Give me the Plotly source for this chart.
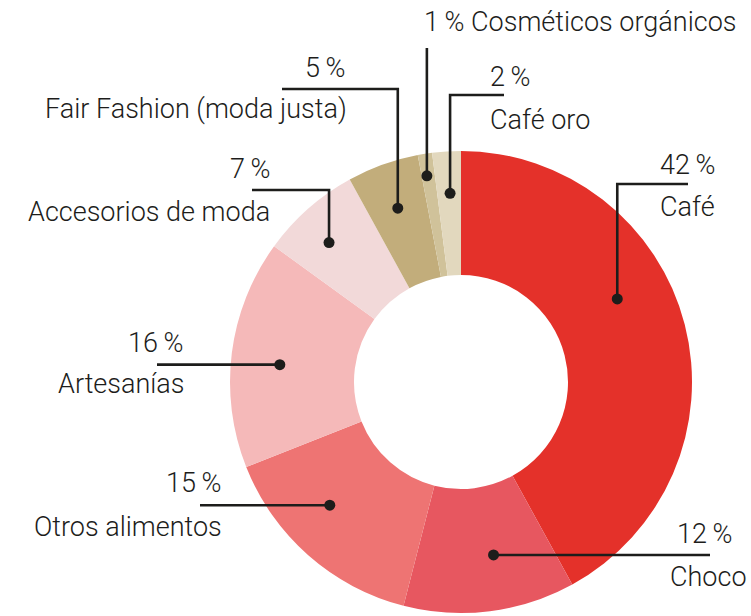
import math
import plotly.graph_objects as go

W, H = 751, 616

# ---- data ----
labels = ["Café", "Choco", "Otros alimentos", "Artesanías", "Accesorios de moda",
          "Fair Fashion (moda justa)", "Cosméticos orgánicos", "Café oro"]
values = [42, 12, 15, 16, 7, 5, 1, 2]
colors = ["#E4312A", "#E75760", "#EE7473", "#F5B9B9", "#F2D9D9",
          "#C2AD7B", "#D0C29A", "#E2D8BE"]

# ---- layout / style ----
CX, CY, R, RH = 461, 382, 231, 107
FONT = "Roboto"
FS = 27
INK = "#1d1d1b"

# where inside each slice the leader dot sits (fraction of slice angle, radius in px)
anchor_frac = [0.41, 0.42, 0.60, 0.47, 0.42, 0.49, 0.39, 0.54]
anchor_r = [177, 176, 180, 182, 192, 185, 209, 189]
# leader path: kind, elbow y, end x
leaders = [("vh", 184, 688), ("h", None, 710), ("h", None, 200), ("h", None, 157),
           ("vh", 190, 252), ("vh", 89, 282), ("v", 48, None), ("vh", 95, 504)]
# text placement: pct (anchor, x, y), name (anchor, x, y); None for pct means single line
text_pos = [(("left", 658, 165), ("left", 658, 206.5)),
            (("left", 675, 533.5), ("right", 749, 576.5)),
            (("right", 223, 482.5), ("right", 224, 526.5)),
            (("right", 185, 342.5), ("right", 186, 384)),
            (("right", 272, 169), ("right", 272, 212)),
            (("right", 347, 68), ("right", 349, 109)),
            (None, ("left", 422, 22)),
            (("left", 488, 76.5), ("left", 488, 119.5))]


def px(x):
    return x / W


def py(y):
    return 1 - y / H


fig = go.Figure()
fig.add_trace(go.Pie(
    labels=labels, values=values, sort=False, direction="clockwise", rotation=0,
    hole=RH / R, marker=dict(colors=colors, line=dict(width=0)),
    textinfo="none", hoverinfo="label+percent", showlegend=False,
    domain=dict(x=[(CX - R) / W, (CX + R) / W], y=[(H - CY - R) / H, (H - CY + R) / H]),
))

total = sum(values)
shapes, annotations = [], []
cum = 0
for i, v in enumerate(values):
    a0 = cum / total * 360
    a1 = (cum + v) / total * 360
    cum += v
    th = math.radians(a0 + anchor_frac[i] * (a1 - a0))
    dx = CX + anchor_r[i] * math.sin(th)
    dy = CY - anchor_r[i] * math.cos(th)
    kind, ey, ex = leaders[i]
    if kind == "vh":
        pts = [(dx, dy), (dx, ey), (ex, ey)]
    elif kind == "h":
        pts = [(dx, dy), (ex, dy)]
    else:
        pts = [(dx, dy), (dx, ey)]
    path = "M " + " L ".join(f"{px(x):.5f},{py(y):.5f}" for x, y in pts)
    shapes.append(dict(type="path", path=path, xref="paper", yref="paper",
                       line=dict(color=INK, width=2.6), layer="above"))
    rr = 5.5
    shapes.append(dict(type="circle", xref="paper", yref="paper",
                       x0=px(dx - rr), x1=px(dx + rr), y0=py(dy + rr), y1=py(dy - rr),
                       fillcolor=INK, line=dict(width=0), layer="above"))
    ppos, npos = text_pos[i]
    pct = f"{v}\u2009%"
    if ppos is None:
        annotations.append(dict(text=f"{pct} {labels[i]}", x=px(npos[1]), y=py(npos[2]),
                                xref="paper", yref="paper", xanchor=npos[0], yanchor="middle",
                                showarrow=False))
    else:
        annotations.append(dict(text=pct, x=px(ppos[1]), y=py(ppos[2]),
                                xref="paper", yref="paper", xanchor=ppos[0], yanchor="middle",
                                showarrow=False))
        annotations.append(dict(text=labels[i], x=px(npos[1]), y=py(npos[2]),
                                xref="paper", yref="paper", xanchor=npos[0], yanchor="middle",
                                showarrow=False))

fig.update_layout(
    width=W, height=H, margin=dict(l=0, r=0, t=0, b=0),
    paper_bgcolor="white", plot_bgcolor="white",
    font=dict(family=FONT, size=FS, color=INK, weight=300),
    shapes=shapes, annotations=annotations,
)
fig.write_html("out.html", config={"displayModeBar": False},
               post_script="document.body.style.margin='0px';document.body.style.overflow='hidden';")
